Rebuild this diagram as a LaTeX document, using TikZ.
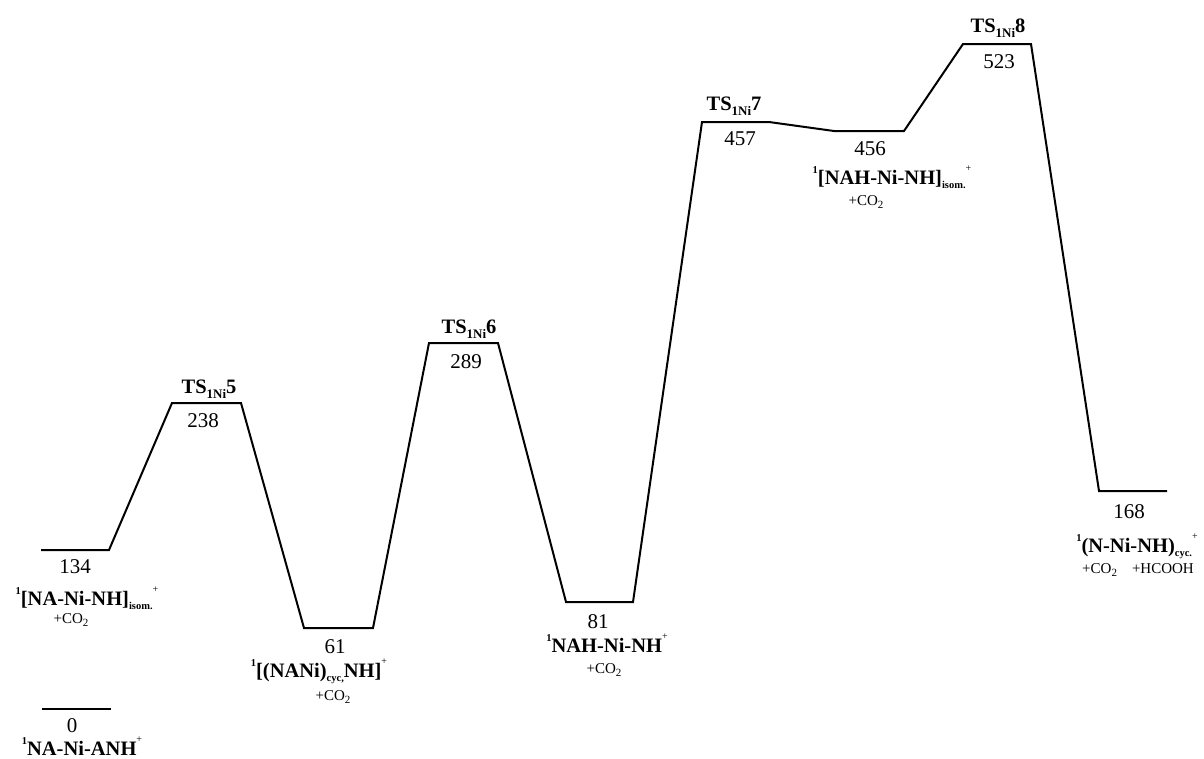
\documentclass[tikz,border=0pt]{standalone}
\usepackage{fontspec}
\setmainfont{Liberation Serif}
\newcommand{\tsub}[1]{\raisebox{-5pt}{\fontsize{13}{13}\selectfont #1}}
\newcommand{\lsub}[1]{\raisebox{-4pt}{\fontsize{10.5}{10.5}\selectfont #1}}
\newcommand{\rsup}[1]{\raisebox{13pt}{\fontsize{10}{10}\selectfont\mdseries #1}}
\newcommand{\lsupr}[1]{\raisebox{11pt}{\fontsize{10.5}{10.5}\selectfont #1}}
\newcommand{\csub}[1]{\raisebox{-3pt}{\fontsize{11}{11}\selectfont #1}}
\tikzset{
  level/.style={line width=2pt, line join=miter},
  num/.style={font=\fontsize{21}{21}\selectfont, anchor=base, inner sep=0pt},
  lab/.style={font=\fontsize{20.5}{20.5}\selectfont\bfseries, anchor=base, inner sep=0pt},
  small/.style={font=\fontsize{15}{15}\selectfont, anchor=base, inner sep=0pt}
}
\begin{document}
\begin{tikzpicture}[x=1pt,y=-1pt]
\useasboundingbox (0,0) rectangle (1204,758);
% level end points
\coordinate (L0-l) at (42,709);   \coordinate (L0-r) at (111,709);
\coordinate (A-l) at (41,550);    \coordinate (A-r) at (109,550);
\coordinate (T5-l) at (172,403);  \coordinate (T5-r) at (241,403);
\coordinate (B-l) at (304,628);   \coordinate (B-r) at (373,628);
\coordinate (T6-l) at (429,343);  \coordinate (T6-r) at (498,343);
\coordinate (C-l) at (566,602);   \coordinate (C-r) at (633,602);
\coordinate (T7-l) at (702,122);  \coordinate (T7-r) at (769,122);
\coordinate (D-l) at (834,131);   \coordinate (D-r) at (904,131);
\coordinate (T8-l) at (963,44);   \coordinate (T8-r) at (1031,44);
\coordinate (E-l) at (1099,491);  \coordinate (E-r) at (1167,491);
\draw[level] (L0-l) -- (L0-r);
\draw[level] (A-l) -- (A-r) -- (T5-l) -- (T5-r) -- (B-l) -- (B-r) -- (T6-l) -- (T6-r)
  -- (C-l) -- (C-r) -- (T7-l) -- (T7-r) -- (D-l) -- (D-r) -- (T8-l) -- (T8-r) -- (E-l) -- (E-r);
% labels
\node[num] (n134) at (75,573) {134};
\node[lab] (l134) at (87,605) {\lsupr{1}[NA-Ni-NH]\lsub{isom.}\rsup{+}};
\node[small] (c134) at (71,623) {+CO\csub{2}};
\node[num] (n0) at (72,732) {0};
\node[lab] (l0) at (82,755) {\lsupr{1}NA-Ni-ANH\rsup{+}};
\node[lab] (t5) at (209,393) {TS\tsub{1Ni}5};
\node[num] (n238) at (203,427) {238};
\node[num] (n61) at (335,653) {61};
\node[lab] (l61) at (319,677) {\lsupr{1}[(NANi)\lsub{cyc,}NH]\rsup{+}};
\node[small] (c61) at (333,700) {+CO\csub{2}};
\node[lab] (t6) at (469,333) {TS\tsub{1Ni}6};
\node[num] (n289) at (466,368) {289};
\node[num] (n81) at (598,628) {81};
\node[lab] (l81) at (607,652) {\lsupr{1}NAH-Ni-NH\rsup{+}};
\node[small] (c81) at (604,673) {+CO\csub{2}};
\node[lab] (t7) at (734,110) {TS\tsub{1Ni}7};
\node[num] (n457) at (740,145) {457};
\node[num] (n456) at (870,155) {456};
\node[lab] (l456) at (892,184) {\lsupr{1}[NAH-Ni-NH]\lsub{isom.}\rsup{+}};
\node[small] (c456) at (866,205) {+CO\csub{2}};
\node[lab] (t8) at (998,32) {TS\tsub{1Ni}8};
\node[num] (n523) at (999,68) {523};
\node[num] (n168) at (1129,518) {168};
\node[lab] (l168) at (1137,552) {\lsupr{1}(N-Ni-NH)\lsub{cyc.}\rsup{+}};
\node[small] (c168) at (1138,573) {+CO\csub{2}\quad+HCOOH};
\end{tikzpicture}
\end{document}
